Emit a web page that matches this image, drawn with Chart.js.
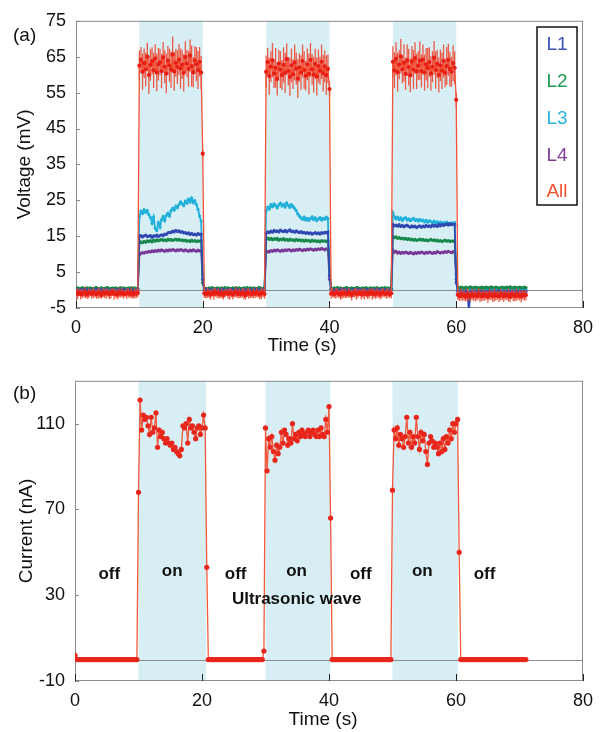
<!DOCTYPE html>
<html>
<head>
<meta charset="utf-8">
<script src="https://cdn.jsdelivr.net/npm/chart.js@4.4.0/dist/chart.umd.min.js"></script>
<style>
  body { margin: 0; background: #fff; }
  #panelA { position: absolute; left: 0; top: 0; }
  #panelB { position: absolute; left: 0; top: 360px; }
</style>
</head>
<body>
<canvas id="panelA" width="602" height="360"></canvas>
<canvas id="panelB" width="602" height="372"></canvas>
<script>
// sample times (s), shared by both panels
const timeS = [
  0,0.25,0.5,0.75,1,1.25,1.5,1.75,2,2.25,2.5,2.75,3,3.25,3.5,3.75,4,4.25,4.5,4.75,
  5,5.25,5.5,5.75,6,6.25,6.5,6.75,7,7.25,7.5,7.75,8,8.25,8.5,8.75,9,9.25,9.5,9.75,
  10,10.25,10.5,10.75,11,11.25,11.5,11.75,12,12.25,12.5,12.75,13,13.25,13.5,13.75,14,14.25,14.5,14.75,
  15,15.25,15.5,15.75,16,16.25,16.5,16.75,17,17.25,17.5,17.75,18,18.25,18.5,18.75,19,19.25,19.5,19.75,
  20,20.25,20.5,20.75,21,21.25,21.5,21.75,22,22.25,22.5,22.75,23,23.25,23.5,23.75,24,24.25,24.5,24.75,
  25,25.25,25.5,25.75,26,26.25,26.5,26.75,27,27.25,27.5,27.75,28,28.25,28.5,28.75,29,29.25,29.5,29.75,
  30,30.25,30.5,30.75,31,31.25,31.5,31.75,32,32.25,32.5,32.75,33,33.25,33.5,33.75,34,34.25,34.5,34.75,
  35,35.25,35.5,35.75,36,36.25,36.5,36.75,37,37.25,37.5,37.75,38,38.25,38.5,38.75,39,39.25,39.5,39.75,
  40,40.25,40.5,40.75,41,41.25,41.5,41.75,42,42.25,42.5,42.75,43,43.25,43.5,43.75,44,44.25,44.5,44.75,
  45,45.25,45.5,45.75,46,46.25,46.5,46.75,47,47.25,47.5,47.75,48,48.25,48.5,48.75,49,49.25,49.5,49.75,
  50,50.25,50.5,50.75,51,51.25,51.5,51.75,52,52.25,52.5,52.75,53,53.25,53.5,53.75,54,54.25,54.5,54.75,
  55,55.25,55.5,55.75,56,56.25,56.5,56.75,57,57.25,57.5,57.75,58,58.25,58.5,58.75,59,59.25,59.5,59.75,
  60,60.25,60.5,60.75,61,61.25,61.5,61.75,62,62.25,62.5,62.75,63,63.25,63.5,63.75,64,64.25,64.5,64.75,
  65,65.25,65.5,65.75,66,66.25,66.5,66.75,67,67.25,67.5,67.75,68,68.25,68.5,68.75,69,69.25,69.5,69.75,
  70,70.25,70.5,70.75,71
];

// (a) voltage, mV
const voltL1 = [
  // off 0-9.75
  0.1,0.0,-0.1,0.2,0.0,0.1,-0.2,0.0,0.1,0.0,
  -0.1,0.1,0.0,0.2,-0.1,0.0,0.1,-0.1,0.0,0.1,
  0.0,-0.2,0.1,0.0,0.1,-0.1,0.0,0.2,0.0,-0.1,
  0.1,0.0,-0.1,0.1,0.0,0.0,-0.2,0.1,0.0,0.1,
  // on 10-19.75
  15.0,15.2,14.8,15.1,15.3,14.9,15.0,15.2,14.7,15.1,
  15.0,15.3,14.9,15.2,15.4,15.1,15.6,15.5,15.9,16.1,
  16.0,16.4,16.2,16.6,16.3,16.5,16.1,16.3,15.9,16.0,
  15.7,15.9,15.5,15.8,15.4,15.6,15.3,15.7,15.5,15.6,
  3.0,
  // off 20.25-29.75
  0.0,0.1,-0.1,0.0,0.2,0.0,-0.1,0.1,0.0,0.1,
  -0.2,0.0,0.1,0.0,-0.1,0.1,0.0,0.2,0.0,-0.1,
  0.1,0.0,0.0,-0.1,0.1,0.0,0.2,-0.1,0.0,0.1,
  0.0,-0.1,0.1,0.0,0.1,-0.2,0.0,0.1,0.0,
  // on 30-39.75
  15.8,16.2,16.0,16.4,16.1,16.6,16.3,16.5,16.2,16.7,
  16.4,16.3,16.6,16.2,16.5,16.8,16.3,16.4,16.1,16.5,
  16.2,16.0,16.3,15.9,16.1,15.8,16.0,15.7,15.9,15.6,
  15.8,16.0,15.7,15.9,15.6,16.0,15.8,16.1,15.9,16.2,
  4.0,
  // off 40.25-49.75
  0.1,-0.1,0.0,0.1,0.0,-0.2,0.1,0.0,0.2,-0.1,
  0.0,0.1,-0.1,0.0,0.1,0.0,-0.1,0.2,0.0,0.1,
  -0.1,0.0,0.1,0.0,-0.2,0.1,0.0,0.1,-0.1,0.0,
  0.2,0.0,-0.1,0.1,0.0,0.1,-0.1,0.0,0.1,
  // on 50-59.75
  18.3,17.9,18.1,17.8,18.2,17.7,18.0,17.6,17.9,18.1,
  17.7,17.5,17.9,17.6,17.8,17.4,17.7,17.9,17.5,17.8,
  17.6,18.0,17.7,17.9,17.6,18.1,17.8,18.0,17.7,18.2,
  17.9,18.3,18.0,18.2,18.4,18.1,18.5,18.2,18.4,18.3,
  2.0,
  // off 60.25-71
  -0.3,-0.5,-0.2,-0.6,-0.4,-0.3,-0.6,-5.8,-0.4,-0.5,
  -0.3,-0.6,-0.4,-0.2,-0.5,-0.3,-0.6,-0.4,-0.5,-0.3,
  -0.2,-0.5,-0.4,-0.6,-0.3,-0.5,-0.2,-0.4,-0.6,-0.3,
  -0.5,-0.4,-0.2,-0.5,-0.3,-0.6,-0.4,-0.3,-0.5,-0.2,
  -0.4,-0.6,-0.3,-0.5
];

const voltL2 = [
  0.5,0.6,0.4,0.5,0.7,0.5,0.4,0.6,0.5,0.6,
  0.4,0.5,0.6,0.7,0.5,0.4,0.6,0.5,0.5,0.6,
  0.7,0.5,0.4,0.6,0.5,0.6,0.5,0.4,0.7,0.5,
  0.6,0.5,0.4,0.6,0.5,0.7,0.5,0.6,0.4,0.5,
  13.1,13.4,13.2,13.6,13.3,13.7,13.5,13.8,13.4,13.9,
  13.6,14.0,13.7,13.9,14.1,13.8,14.0,13.7,14.2,13.9,
  14.1,13.8,14.0,14.2,13.9,14.1,13.8,14.0,13.7,13.9,
  13.6,13.8,13.5,13.9,13.6,13.8,13.5,13.7,13.6,13.8,
  2.0,
  0.6,0.5,0.4,0.6,0.5,0.7,0.5,0.4,0.6,0.5,
  0.5,0.6,0.4,0.7,0.5,0.6,0.5,0.4,0.6,0.5,
  0.7,0.5,0.6,0.4,0.5,0.6,0.5,0.7,0.4,0.6,
  0.5,0.6,0.5,0.4,0.6,0.7,0.5,0.5,0.6,
  14.2,14.5,14.1,14.4,14.0,14.3,14.1,14.4,13.9,14.2,
  14.0,14.3,13.9,14.1,13.8,14.2,13.9,14.0,13.7,14.1,
  13.8,14.0,13.7,13.9,13.6,13.9,13.7,13.8,13.5,13.9,
  13.6,13.8,13.5,13.7,13.4,13.8,13.6,13.7,13.5,13.8,
  6.0,
  0.5,0.4,0.6,0.5,0.7,0.5,0.6,0.4,0.5,0.6,
  0.7,0.5,0.4,0.6,0.5,0.5,0.7,0.6,0.4,0.5,
  0.6,0.5,0.7,0.5,0.4,0.6,0.5,0.6,0.5,0.7,
  0.4,0.5,0.6,0.5,0.7,0.4,0.6,0.5,0.5,
  15.0,14.6,14.8,14.4,14.6,14.3,14.5,14.2,14.4,14.1,
  14.3,14.0,14.2,13.9,14.1,13.8,14.0,14.2,13.9,14.1,
  13.8,14.0,13.7,13.9,14.1,13.8,14.0,13.7,13.9,13.6,
  13.8,13.5,13.7,13.9,13.6,13.8,13.5,13.7,13.6,13.8,
  4.6,
  0.7,0.6,0.8,0.7,0.5,0.8,0.6,0.7,0.9,0.6,
  0.7,0.8,0.6,0.7,0.5,0.8,0.7,0.6,0.8,0.7,
  0.6,0.9,0.7,0.6,0.8,0.7,0.5,0.7,0.8,0.6,
  0.7,0.8,0.6,0.9,0.7,0.6,0.8,0.7,0.6,0.8,
  0.7,0.6,0.8,0.7
];

const voltL3 = [
  0.3,0.2,0.4,0.3,0.1,0.3,0.4,0.2,0.3,0.3,
  0.2,0.4,0.3,0.2,0.3,0.1,0.4,0.3,0.2,0.3,
  0.4,0.3,0.2,0.3,0.4,0.2,0.3,0.1,0.3,0.4,
  0.2,0.3,0.3,0.4,0.2,0.3,0.1,0.3,0.2,0.4,
  20.5,22.0,21.3,22.4,21.6,22.1,21.0,20.2,18.6,20.4,
  17.2,16.6,18.8,17.5,19.6,20.5,19.3,20.8,21.4,20.6,
  22.1,22.8,22.3,23.4,22.9,23.8,24.6,24.1,23.5,24.8,
  24.2,25.3,24.5,25.6,24.3,24.9,23.8,22.5,20.6,19.2,
  4.0,
  0.2,0.3,0.4,0.2,0.3,0.3,0.1,0.4,0.3,0.2,
  0.3,0.4,0.2,0.3,0.1,0.3,0.4,0.2,0.3,0.3,
  0.2,0.4,0.3,0.1,0.3,0.2,0.4,0.3,0.2,0.3,
  0.4,0.2,0.3,0.3,0.1,0.4,0.2,0.3,0.3,
  22.0,23.1,22.6,23.8,23.2,24.0,23.5,22.9,23.7,24.2,
  23.4,23.9,23.1,24.3,23.6,23.0,23.8,23.3,22.7,22.1,
  21.2,20.6,20.1,19.7,20.3,19.5,20.0,19.4,19.9,20.4,
  19.6,20.1,19.3,19.8,20.2,19.5,20.0,19.7,20.3,19.9,
  5.0,
  0.3,0.4,0.2,0.3,0.1,0.3,0.2,0.4,0.3,0.2,
  0.3,0.1,0.4,0.3,0.2,0.3,0.4,0.2,0.3,0.3,
  0.1,0.3,0.4,0.2,0.3,0.2,0.4,0.3,0.1,0.3,
  0.2,0.4,0.3,0.3,0.2,0.1,0.3,0.4,0.2,
  21.5,20.4,19.8,20.3,19.6,20.1,19.4,19.9,20.2,19.5,
  19.8,19.3,19.7,20.0,19.4,19.6,19.2,19.7,19.3,19.5,
  19.0,19.4,18.9,19.3,19.1,18.8,19.2,18.7,19.0,18.6,
  18.9,18.5,18.8,18.4,18.9,18.6,18.3,18.7,18.5,18.8,
  4.0,
  0.2,0.3,0.1,0.2,0.3,0.2,0.0,0.3,0.2,0.1,
  0.3,0.2,0.2,0.1,0.3,0.2,0.0,0.2,0.3,0.1,
  0.2,0.3,0.2,0.1,0.2,0.3,0.0,0.2,0.1,0.3,
  0.2,0.1,0.3,0.2,0.2,0.0,0.3,0.1,0.2,0.3,
  0.1,0.2,0.3,0.2
];

const voltL4 = [
  0.0,0.1,-0.1,0.0,0.1,0.0,0.1,-0.1,0.0,0.1,
  0.0,-0.1,0.1,0.0,0.0,0.1,-0.1,0.0,0.1,0.0,
  0.1,0.0,-0.1,0.1,0.0,0.0,0.1,-0.1,0.0,0.1,
  0.0,0.1,0.0,-0.1,0.1,0.0,0.0,0.1,-0.1,0.0,
  9.8,10.2,10.4,10.3,10.6,10.5,10.8,10.6,10.9,10.7,
  11.0,10.8,11.1,10.9,11.2,11.0,10.8,11.1,10.9,11.2,
  11.0,11.3,11.1,10.9,11.2,11.0,11.3,11.1,10.9,11.2,
  11.0,10.8,11.1,10.9,11.2,11.0,10.8,11.1,10.9,11.0,
  2.0,
  0.1,0.0,-0.1,0.1,0.0,0.0,0.1,-0.1,0.0,0.1,
  0.0,0.1,-0.1,0.0,0.1,0.0,-0.1,0.1,0.0,0.0,
  0.1,-0.1,0.0,0.1,0.0,0.1,0.0,-0.1,0.1,0.0,
  0.0,0.1,-0.1,0.0,0.1,0.0,0.1,-0.1,0.0,
  10.4,10.8,10.6,11.0,10.8,11.1,10.9,11.2,11.0,10.8,
  11.1,10.9,11.2,11.0,11.3,11.1,10.9,11.2,11.0,11.3,
  11.1,11.4,11.2,11.0,11.3,11.1,11.4,11.2,11.5,11.3,
  11.1,11.4,11.2,11.5,11.3,11.6,11.4,11.2,11.5,11.3,
  3.0,
  0.0,0.1,0.0,-0.1,0.1,0.0,0.1,0.0,-0.1,0.1,
  0.0,0.0,0.1,-0.1,0.0,0.1,0.0,0.1,-0.1,0.0,
  0.1,0.0,-0.1,0.0,0.1,0.0,0.1,-0.1,0.0,0.1,
  0.0,-0.1,0.1,0.0,0.0,0.1,-0.1,0.0,0.1,
  11.2,10.5,10.8,10.3,10.6,10.2,10.5,10.3,10.6,10.4,
  10.2,10.5,10.3,10.1,10.4,10.2,10.5,10.3,10.6,10.4,
  10.2,10.5,10.3,10.6,10.4,10.2,10.5,10.3,10.7,10.5,
  10.3,10.6,10.4,10.7,10.5,10.8,10.6,10.4,10.7,10.5,
  3.0,
  -0.2,-0.1,-0.3,-0.2,0.0,-0.2,-0.3,-0.1,-0.2,-0.2,
  -0.1,-0.3,-0.2,0.0,-0.2,-0.1,-0.3,-0.2,-0.1,-0.2,
  -0.3,-0.2,-0.1,-0.2,0.0,-0.3,-0.2,-0.1,-0.2,-0.3,
  -0.1,-0.2,-0.2,-0.3,-0.1,0.0,-0.2,-0.3,-0.1,-0.2,
  -0.2,-0.1,-0.3,-0.2
];

const voltAll = [
  -0.8,-1.1,-0.7,-1.2,-0.9,-1.0,-0.6,-1.3,-0.9,-0.8,
  -1.1,-0.7,-1.0,-1.2,-0.8,-0.9,-1.4,-0.7,-1.0,-0.9,
  -0.8,-1.2,-1.0,-0.6,-1.1,-0.9,-1.3,-0.8,-1.0,-0.7,
  -1.2,-0.9,-1.0,-0.8,-1.1,-0.7,-1.3,-0.9,-1.0,-0.8,
  62.5,64.1,60.8,63.2,61.5,65.0,59.9,62.7,63.8,61.2,
  64.5,60.6,62.9,63.5,61.0,64.8,62.2,60.3,63.9,62.6,
  61.4,65.6,60.9,63.3,62.1,64.2,61.7,62.8,60.5,64.9,
  63.1,61.6,65.3,62.4,60.7,64.0,62.9,61.3,63.6,60.6,
  38.0,
  -0.9,-1.2,-0.7,-1.0,-1.3,-0.8,-1.1,-0.6,-1.0,-0.9,
  -1.2,-0.8,-1.4,-0.9,-0.7,-1.1,-1.0,-0.8,-1.3,-0.9,
  -0.6,-1.1,-0.9,-1.2,-0.8,-1.0,-1.5,-0.7,-1.0,-0.9,
  -1.2,-0.8,-1.1,-0.6,-1.0,-1.3,-0.9,-0.8,-1.1,
  60.8,63.5,59.6,62.2,64.0,60.3,61.9,58.8,63.1,61.4,
  59.9,62.7,60.5,64.3,61.0,59.4,62.6,60.1,63.4,61.7,
  58.9,62.0,60.6,63.8,61.3,59.7,62.9,60.2,64.1,61.5,
  60.0,63.0,59.5,62.4,61.1,63.6,60.4,62.3,59.8,61.6,
  56.0,
  -1.0,-0.8,-1.2,-0.9,-0.7,-1.1,-1.3,-0.8,-1.0,-0.9,
  -1.2,-0.7,-1.0,-1.4,-0.9,-0.8,-1.1,-1.0,-0.7,-1.2,
  -0.9,-1.1,-0.8,-1.3,-1.0,-0.7,-1.1,-0.9,-1.2,-0.8,
  -1.0,-1.3,-0.9,-0.7,-1.1,-1.0,-0.8,-1.2,-0.9,
  63.6,61.2,64.4,60.7,62.8,65.1,61.5,63.3,60.2,64.0,
  62.1,59.8,63.7,61.4,64.6,60.9,62.5,63.9,61.0,64.2,
  60.6,62.9,61.8,63.5,60.3,62.2,64.7,61.3,63.0,59.9,
  62.6,61.1,63.8,60.5,62.4,64.1,61.6,60.8,63.2,61.9,
  53.0,
  -1.3,-1.7,-1.2,-1.6,-1.4,-1.9,-1.3,-1.5,-1.8,-1.2,
  -1.6,-1.4,-1.7,-1.1,-1.5,-1.8,-1.3,-1.6,-1.4,-1.9,
  -1.2,-1.5,-1.7,-1.3,-1.6,-1.4,-1.8,-1.2,-1.5,-1.7,
  -1.3,-1.6,-1.4,-1.9,-1.2,-1.5,-1.7,-1.3,-1.6,-1.4,
  -1.8,-1.3,-1.5,-1.4
];

// error bar half-length for "All"
const errAll = [
  1.2,1.5,1.0,1.4,1.3,1.1,1.6,1.2,1.4,1.0,
  1.3,1.5,1.1,1.2,1.6,1.3,1.0,1.4,1.2,1.5,
  1.1,1.3,1.4,1.0,1.6,1.2,1.3,1.5,1.1,1.4,
  1.2,1.0,1.5,1.3,1.2,1.6,1.1,1.4,1.3,1.2,
  4.2,3.6,5.0,4.1,4.7,3.9,5.3,4.4,3.8,4.9,
  4.0,5.2,4.5,3.7,4.8,4.3,4.6,5.5,4.1,4.6,
  5.1,5.0,5.4,3.9,4.7,4.3,5.6,4.0,5.2,4.4,
  3.8,5.0,4.5,5.7,4.2,3.9,4.8,5.3,4.1,4.6,
  1.0,
  1.3,1.1,1.5,1.2,1.4,1.0,1.6,1.3,1.2,1.4,
  1.1,1.5,1.3,1.2,1.0,1.4,1.6,1.2,1.3,1.1,
  1.5,1.2,1.4,1.0,1.3,1.6,1.1,1.2,1.4,1.3,
  1.0,1.5,1.2,1.4,1.1,1.3,1.6,1.2,1.3,
  4.5,3.9,5.2,4.3,4.8,4.0,5.5,4.6,3.8,5.1,
  4.2,4.9,5.6,4.4,4.0,5.3,4.7,4.1,5.0,4.5,
  5.4,3.9,4.8,4.6,5.2,4.1,4.4,5.7,4.7,4.3,
  5.0,4.2,5.3,4.6,3.9,4.8,5.1,4.4,5.5,4.0,
  2.0,
  1.4,1.2,1.0,1.5,1.3,1.1,1.4,1.6,1.2,1.3,
  1.0,1.4,1.2,1.5,1.1,1.3,1.6,1.2,1.0,1.4,
  1.3,1.5,1.1,1.2,1.4,1.0,1.6,1.3,1.2,1.5,
  1.1,1.3,1.4,1.2,1.0,1.5,1.3,1.1,1.4,
  4.3,5.0,4.6,5.4,4.1,4.8,3.9,5.2,4.5,4.4,
  5.1,4.7,4.2,5.5,4.4,4.9,4.0,5.3,4.6,4.2,
  5.0,4.5,5.6,4.1,4.8,4.3,4.7,5.2,3.9,4.9,
  4.4,5.1,4.6,4.0,5.3,4.5,4.8,4.2,5.0,4.6,
  2.0,
  1.5,1.3,1.7,1.4,1.6,1.2,1.8,1.5,1.3,1.6,
  1.4,1.7,1.2,1.5,1.8,1.3,1.6,1.4,1.2,1.7,
  1.5,1.3,1.6,1.8,1.4,1.2,1.5,1.7,1.3,1.6,
  1.4,1.2,1.8,1.5,1.3,1.6,1.4,1.7,1.2,1.5,
  1.6,1.3,1.4,1.5
];

// (b) current, nA
const currentNA = [
  2,0,0,0,0,0,0,0,0,0,
  0,0,0,0,0,0,0,0,0,0,
  0,0,0,0,0,0,0,0,0,0,
  0,0,0,0,0,0,0,0,0,0,
  78,121,107,114,112,113,109,105,113,106,
  108,115,99,107,104,106,103,101,103,101,
  100,101,98,99,97,96,95,98,109,108,
  110,101,112,108,109,106,103,108,109,105,
  108,
  114,108,43,0,0,0,0,0,0,0,
  0,0,0,0,0,0,0,0,0,0,
  0,0,0,0,0,0,0,0,0,0,
  0,0,0,0,0,0,0,0,4,
  108,88,103,99,104,97,93,100,96,99,
  106,101,107,105,100,103,101,110,103,105,
  102,106,104,107,105,104,106,107,104,106,
  107,105,104,107,104,108,105,104,112,106,
  118,
  66,0,0,0,0,0,0,0,0,0,
  0,0,0,0,0,0,0,0,0,0,
  0,0,0,0,0,0,0,0,0,0,
  0,0,0,0,0,0,0,0,0,
  79,107,103,108,100,105,103,99,104,113,
  101,106,99,104,101,113,104,98,106,102,
  105,97,91,101,104,102,99,101,99,96,
  101,97,103,98,104,101,107,103,110,106,
  110,
  112,50,0,0,0,0,0,0,0,0,
  0,0,0,0,0,0,0,0,0,0,
  0,0,0,0,0,0,0,0,0,0,
  0,0,0,0,0,0,0,0,0,0,
  0,0,0,0
];

const xTicks = [0, 20, 40, 60, 80];
const yTicksA = [-5, 5, 15, 25, 35, 45, 55, 65, 75];
const yTicksB = [-10, 30, 70, 110];
const seriesNames = ['L1', 'L2', 'L3', 'L4', 'All'];
const onPeriodsA = [[10, 20], [30, 40], [50, 60]];
const onPeriodsB = [[10, 20.65], [30, 40.2], [50, 60.3]];

const FONT = "'Liberation Sans', Arial, sans-serif";
const seriesColors = ['#2f48b2', '#17894a', '#1fb0da', '#7a3896', '#ea2418'];
const legendColors = ['#3b50b6', '#1f9a50', '#2ab3dd', '#7e4099', '#f2502e'];

const toPoints = ys => ys.map((v, i) => ({ x: timeS[i], y: v }));

// shaded "on" periods, zero line, frame and inward ticks
const framePlugin = {
  id: 'frame',
  beforeDatasetsDraw(chart, args, opts) {
    const { ctx, chartArea: a, scales: { x, y } } = chart;
    ctx.save();
    ctx.fillStyle = '#d8eef5';
    opts.bands.forEach(([s, e]) => {
      const x0 = x.getPixelForValue(s), x1 = x.getPixelForValue(e);
      ctx.fillRect(x0, a.top, x1 - x0, a.bottom - a.top);
    });
    ctx.lineWidth = 1;
    ctx.strokeStyle = '#8c8c8c';
    const y0 = Math.round(y.getPixelForValue(0)) + 0.5;
    ctx.beginPath(); ctx.moveTo(a.left, y0); ctx.lineTo(a.right, y0); ctx.stroke();
    ctx.strokeRect(a.left + 0.5, a.top + 0.5, a.right - a.left - 1, a.bottom - a.top - 1);
    ctx.strokeStyle = '#222';
    x.ticks.forEach(t => {
      const px = Math.round(x.getPixelForValue(t.value)) + 0.5;
      ctx.beginPath(); ctx.moveTo(px, a.bottom); ctx.lineTo(px, a.bottom - 7); ctx.stroke();
    });
    ctx.strokeStyle = '#888';
    y.ticks.forEach(t => {
      const py = Math.round(y.getPixelForValue(t.value)) + 0.5;
      ctx.beginPath(); ctx.moveTo(a.left, py); ctx.lineTo(a.left + 4, py); ctx.stroke();
    });
    ctx.restore();
  },
  afterDraw(chart, args, opts) {
    const { ctx } = chart;
    ctx.save();
    ctx.fillStyle = '#111';
    ctx.font = '19px ' + FONT;
    ctx.textAlign = 'left';
    ctx.textBaseline = 'alphabetic';
    ctx.fillText(opts.panel[0], opts.panel[1], opts.panel[2]);
    ctx.textAlign = 'center';
    ctx.textBaseline = 'middle';
    ctx.fillText(opts.xTitle[0], opts.xTitle[1], opts.xTitle[2]);
    ctx.restore();
  }
};

// vertical error bars for datasets carrying an "errors" array
const errorBarPlugin = {
  id: 'errorBars',
  beforeDatasetDraw(chart, args) {
    const ds = chart.data.datasets[args.index];
    if (!ds.errors) return;
    const { ctx, chartArea: a, scales: { x, y } } = chart;
    ctx.save();
    ctx.beginPath();
    ctx.rect(a.left, a.top, a.right - a.left, a.bottom - a.top);
    ctx.clip();
    ctx.strokeStyle = ds.errorColor;
    ctx.lineWidth = 1.3;
    ds.data.forEach((p, i) => {
      const px = x.getPixelForValue(p.x);
      ctx.beginPath();
      ctx.moveTo(px, y.getPixelForValue(p.y - ds.errors[i]));
      ctx.lineTo(px, y.getPixelForValue(p.y + ds.errors[i]));
      ctx.stroke();
    });
    ctx.restore();
  }
};

// boxed legend with coloured names
const boxLegendPlugin = {
  id: 'boxLegend',
  afterDraw(chart) {
    const { ctx } = chart;
    ctx.save();
    ctx.strokeStyle = '#111';
    ctx.lineWidth = 1.5;
    ctx.strokeRect(537, 27, 40, 178);
    ctx.font = '19px ' + FONT;
    ctx.textAlign = 'center';
    ctx.textBaseline = 'middle';
    const rows = [44, 81, 118, 155, 191];
    seriesNames.forEach((n, i) => {
      ctx.fillStyle = legendColors[i];
      ctx.fillText(n, 557, rows[i] + 1);
    });
    ctx.restore();
  }
};

// bold on/off notes in panel (b)
const notesPlugin = {
  id: 'notes',
  afterDatasetsDraw(chart, args, opts) {
    const { ctx, scales: { x, y } } = chart;
    ctx.save();
    ctx.fillStyle = '#111';
    ctx.font = 'bold 17px ' + FONT;
    ctx.textAlign = 'center';
    ctx.textBaseline = 'alphabetic';
    opts.items.forEach(([t, xv, yv]) => {
      ctx.fillText(t, x.getPixelForValue(xv), y.getPixelForValue(yv));
    });
    ctx.restore();
  }
};

function makeScales(yTicks, yMin, yMax, yTitle, xHeight, yWidth, yTitlePad) {
  return {
    x: {
      type: 'linear', min: 0, max: 80,
      grid: { display: false, drawTicks: false },
      border: { display: false },
      afterBuildTicks: s => { s.ticks = xTicks.map(v => ({ value: v })); },
      afterFit: s => { s.height = xHeight; },
      ticks: { font: { family: FONT, size: 18 }, color: '#111', padding: 9, maxRotation: 0, autoSkip: false }
    },
    y: {
      min: yMin, max: yMax,
      grid: { display: false, drawTicks: false },
      border: { display: false },
      afterBuildTicks: s => { s.ticks = yTicks.map(v => ({ value: v })); },
      afterFit: s => { s.width = yWidth; },
      ticks: { font: { family: FONT, size: 18 }, color: '#111', padding: 10, autoSkip: false },
      title: { display: true, text: yTitle, color: '#111', font: { family: FONT, size: 19 }, padding: { top: yTitlePad, bottom: 0 } }
    }
  };
}

const voltSeries = [voltL1, voltL2, voltL3, voltL4];
const voltDatasets = voltSeries.map((ys, i) => ({
  label: seriesNames[i],
  data: toPoints(ys),
  borderColor: seriesColors[i],
  backgroundColor: seriesColors[i],
  borderWidth: 1.8,
  pointRadius: 1.6,
  pointBorderWidth: 0,
  order: i + 1
}));
voltDatasets.push({
  label: seriesNames[4],
  data: toPoints(voltAll),
  errors: errAll,
  errorColor: 'rgba(240,72,48,0.9)',
  borderColor: '#f25236',
  backgroundColor: '#e81e14',
  borderWidth: 1.3,
  pointRadius: 2.1,
  pointBorderWidth: 0,
  order: 0
});

new Chart(document.getElementById('panelA'), {
  type: 'line',
  data: { datasets: voltDatasets },
  options: {
    responsive: false,
    animation: false,
    devicePixelRatio: 1,
    layout: { padding: { top: 17, right: 13, left: 0, bottom: 0 } },
    scales: makeScales(yTicksA, -5, 75, 'Voltage (mV)', 52, 76, 13),
    plugins: {
      legend: { display: false },
      tooltip: { enabled: false },
      frame: { bands: onPeriodsA, panel: ['(a)', 13, 41], xTitle: ['Time (s)', 302, 346] }
    }
  },
  plugins: [framePlugin, errorBarPlugin, boxLegendPlugin]
});

new Chart(document.getElementById('panelB'), {
  type: 'line',
  data: {
    datasets: [{
      label: 'Current',
      data: toPoints(currentNA),
      borderColor: '#f2583a',
      backgroundColor: '#e8261c',
      borderWidth: 1.3,
      pointRadius: 2.6,
      pointBorderWidth: 0
    }]
  },
  options: {
    responsive: false,
    animation: false,
    devicePixelRatio: 1,
    layout: { padding: { top: 13, right: 11, left: 0, bottom: 0 } },
    scales: makeScales(yTicksB, -10, 130, 'Current (nA)', 51, 75, 15),
    plugins: {
      legend: { display: false },
      tooltip: { enabled: false },
      frame: { bands: onPeriodsB, panel: ['(b)', 13, 39], xTitle: ['Time (s)', 323, 360] },
      notes: {
        items: [
          ['off', 5.4, 37.7], ['on', 15.3, 39.1], ['off', 25.3, 37.7], ['on', 34.9, 39.1],
          ['off', 45.0, 37.7], ['on', 54.7, 39.1], ['off', 64.5, 37.7], ['Ultrasonic wave', 34.9, 25.9]
        ]
      }
    }
  },
  plugins: [framePlugin, notesPlugin]
});
</script>
</body>
</html>
